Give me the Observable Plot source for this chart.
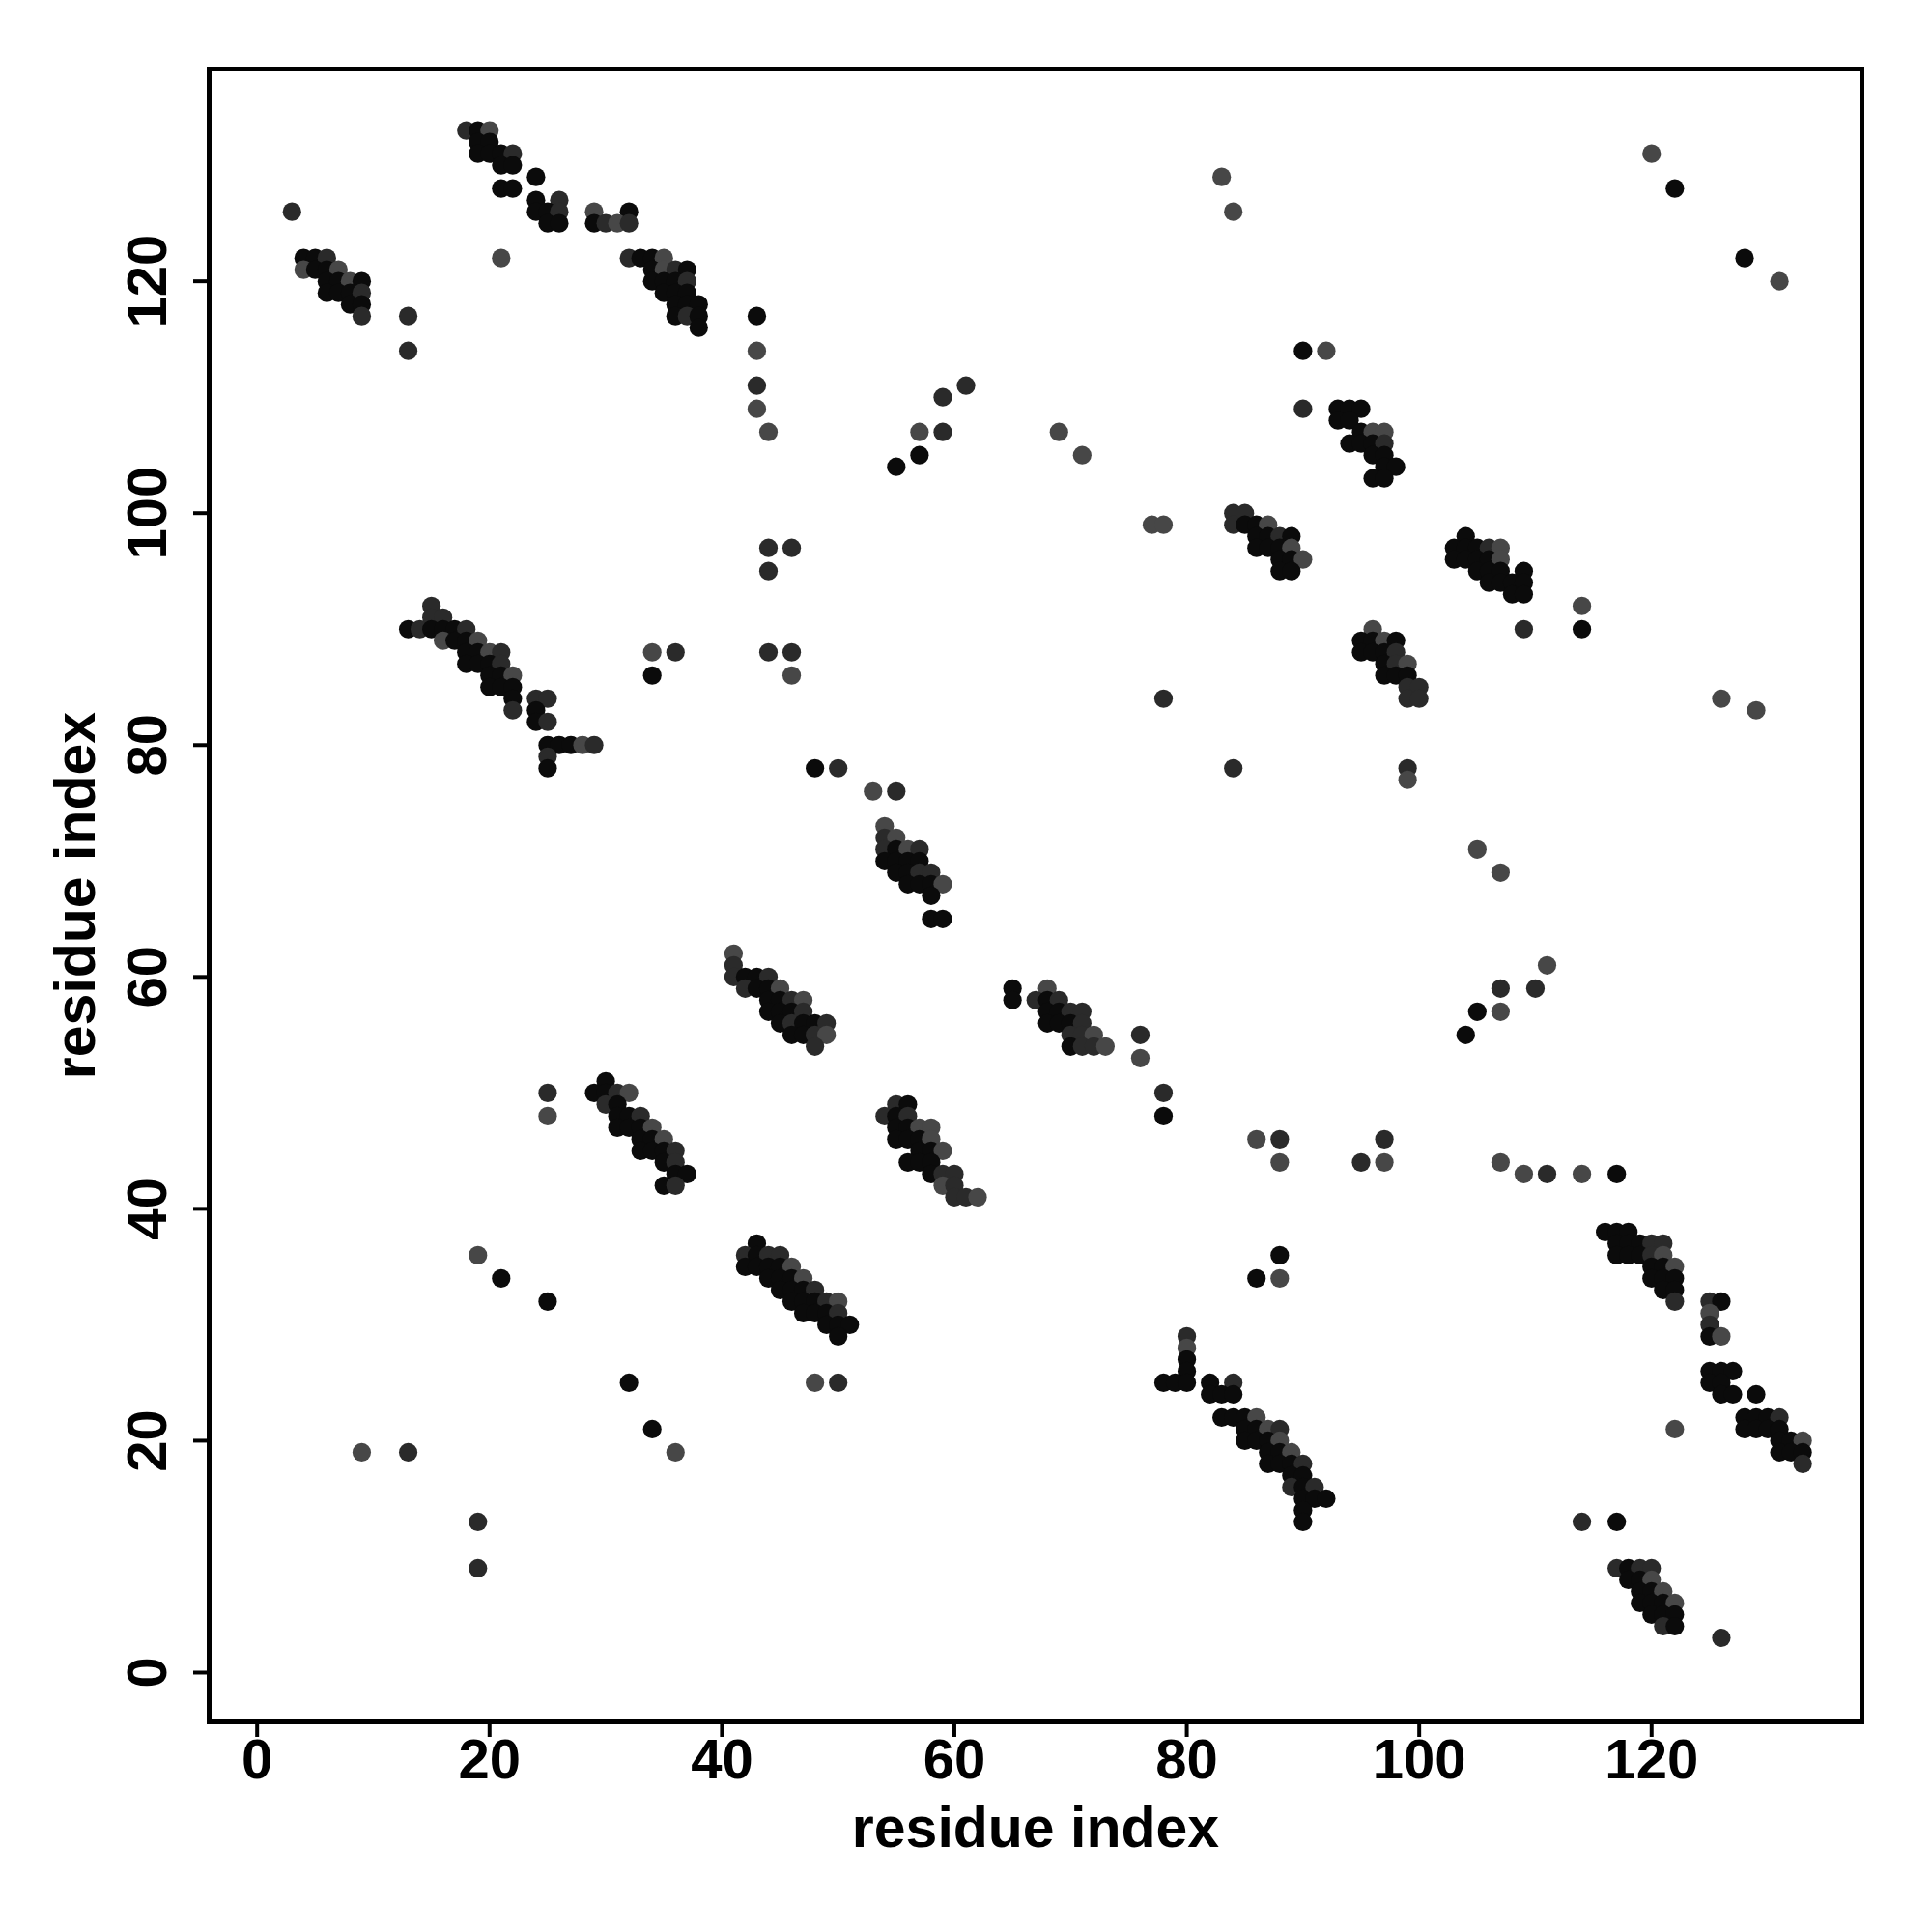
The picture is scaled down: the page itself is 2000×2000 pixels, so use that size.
<!DOCTYPE html>
<html>
<head>
<meta charset="utf-8">
<script src="https://cdn.jsdelivr.net/npm/d3@7"></script>
<script src="https://cdn.jsdelivr.net/npm/@observablehq/plot@0.6"></script>
<style>
  html, body { margin: 0; padding: 0; background: #fff; }
  #chart { width: 2000px; height: 2000px; }
</style>
</head>
<body>
<div id="chart"></div>
<script>
// Each entry: [residue i, residue j, shade level (0 = black, 1 = dark grey, 2 = grey)]
const upperLeftContacts = [
  [4,122,0],[5,122,0],[6,122,1],[4,121,2],[5,121,0],[6,121,0],[7,121,2],[6,120,0],[7,120,0],[8,120,2],[9,120,0],
  [6,119,0],[7,119,0],[8,119,0],[9,119,1],[8,118,0],[9,118,0],[9,117,1],
  [18,133,1],[19,133,0],[20,133,2],[19,132,0],[20,132,0],[19,131,0],[20,131,0],[21,131,0],[22,131,1],[21,130,0],[22,130,0],
  [24,129,0],[21,128,0],[22,128,0],[24,127,0],[26,127,1],[24,126,0],[25,126,0],[26,126,1],[25,125,0],[26,125,0],
  [29,126,2],[32,126,0],[29,125,0],[30,125,1],[31,125,2],[32,125,1],[32,122,1],[33,122,0],[34,122,0],[35,122,2],
  [34,121,0],[35,121,2],[36,121,1],[37,121,0],[34,120,0],[35,120,0],[36,120,0],[37,120,1],[35,119,0],[36,119,0],[37,119,0],
  [36,118,0],[37,118,0],[38,118,0],[36,117,0],[37,117,1],[38,117,0],[38,116,0]
];

const leftMiddleContacts = [
  [15,92,1],[15,91,1],[16,91,1],[13,90,0],[14,90,1],[15,90,0],[16,90,0],[17,90,0],[18,90,1],[16,89,2],[17,89,0],[18,89,0],[19,89,2],
  [18,88,0],[19,88,0],[20,88,2],[21,88,1],[18,87,0],[19,87,0],[20,87,0],[21,87,1],[20,86,0],[21,86,0],[22,86,2],
  [20,85,0],[21,85,0],[22,85,0],[22,84,0],[24,84,1],[25,84,1],[22,83,1],[24,83,0],[24,82,0],[25,82,1],
  [25,80,0],[26,80,0],[27,80,0],[28,80,2],[29,80,1],[25,79,1],[25,78,0],
  [54,73,2],[54,72,1],[55,72,2],[54,71,1],[55,71,0],[56,71,2],[57,71,1],[54,70,0],[55,70,0],[56,70,0],[57,70,0],
  [55,69,0],[56,69,0],[57,69,1],[58,69,1],[56,68,0],[57,68,0],[58,68,0],[59,68,2],[58,67,0],[58,65,0],[59,65,0],
  [41,62,2],[41,61,1],[41,60,1],[42,60,0],[43,60,0],[44,60,1],[42,59,1],[43,59,0],[44,59,0],[45,59,2],
  [44,58,0],[45,58,0],[46,58,1],[47,58,2],[44,57,0],[45,57,0],[46,57,0],[47,57,1],[45,56,0],[46,56,1],[47,56,0],[48,56,0],[49,56,1],
  [46,55,0],[47,55,0],[48,55,1],[49,55,2],[48,54,1],
  [65,59,0],[68,59,2],[65,58,0],[67,58,1],[68,58,0],[69,58,1],[68,57,0],[69,57,0],[70,57,1],[71,57,1],
  [68,56,0],[69,56,0],[70,56,0],[71,56,1],[70,55,1],[71,55,1],[72,55,2],[70,54,0],[71,54,1],[72,54,1],[73,54,2]
];

const lowerLeftContacts = [
  [30,51,0],[29,50,0],[30,50,0],[31,50,1],[32,50,2],[30,49,1],[31,49,0],[31,48,0],[32,48,0],[33,48,1],
  [31,47,0],[32,47,0],[33,47,0],[34,47,2],[33,46,0],[34,46,0],[35,46,2],[33,45,0],[34,45,0],[35,45,0],[36,45,1],
  [35,44,0],[36,44,1],[36,43,0],[37,43,0],[35,42,0],[36,42,1],
  [55,49,1],[56,49,0],[54,48,1],[55,48,0],[56,48,1],[55,47,0],[56,47,0],[57,47,2],[58,47,2],
  [55,46,0],[56,46,0],[57,46,0],[58,46,2],[57,45,0],[58,45,0],[59,45,2],[56,44,0],[57,44,0],[58,44,0],
  [58,43,0],[59,43,1],[60,43,1],[59,42,2],[60,42,1],[60,41,1],[61,41,1],[62,41,2],
  [43,37,0],[42,36,1],[43,36,0],[44,36,1],[45,36,1],[42,35,0],[43,35,0],[44,35,0],[45,35,0],[46,35,2],
  [44,34,0],[45,34,0],[46,34,0],[47,34,2],[45,33,0],[46,33,0],[47,33,0],[48,33,1],
  [46,32,0],[47,32,0],[48,32,0],[49,32,1],[50,32,2],[47,31,0],[48,31,0],[49,31,0],[50,31,1],
  [49,30,0],[50,30,0],[51,30,0],[50,29,0]
];

const upperRightContacts = [
  [84,100,1],[85,100,1],[84,99,1],[85,99,0],[86,99,0],[87,99,2],[86,98,0],[87,98,0],[88,98,1],[89,98,0],
  [86,97,0],[87,97,0],[88,97,0],[89,97,2],[88,96,0],[89,96,0],[90,96,2],[88,95,0],[89,95,0],
  [93,109,0],[94,109,0],[95,109,0],[93,108,0],[94,108,0],[95,107,0],[96,107,2],[97,107,2],
  [94,106,0],[95,106,0],[96,106,0],[97,106,1],[96,105,0],[97,105,0],[97,104,0],[98,104,0],[96,103,0],[97,103,0],
  [104,98,0],[103,97,0],[104,97,0],[105,97,0],[106,97,1],[107,97,2],[103,96,0],[104,96,0],[105,96,0],[106,96,0],[107,96,2],
  [105,95,0],[106,95,0],[107,95,0],[109,95,0],[106,94,0],[107,94,0],[108,94,0],[109,94,0],[108,93,0],[109,93,0],
  [96,90,2],[95,89,0],[96,89,0],[97,89,2],[98,89,0],[95,88,0],[96,88,0],[97,88,0],[98,88,1],
  [97,87,0],[98,87,1],[99,87,2],[97,86,0],[98,86,0],[99,86,0],[99,85,1],[100,85,1],[99,84,1],[100,84,1]
];

const lowerRightContacts = [
  [80,29,1],[80,28,2],[80,27,0],[80,26,0],[78,25,0],[79,25,0],[80,25,0],[82,25,0],[84,25,1],[82,24,0],[83,24,0],[84,24,0],
  [83,22,0],[84,22,0],[85,22,0],[86,22,2],[85,21,0],[86,21,0],[87,21,2],[88,21,1],[85,20,0],[86,20,0],[87,20,0],[88,20,2],
  [87,19,0],[88,19,0],[89,19,2],[87,18,0],[88,18,0],[89,18,0],[90,18,1],[89,17,0],[90,17,0],[89,16,1],[90,16,0],[91,16,1],
  [90,15,0],[91,15,0],[92,15,0],[90,14,0],[90,13,0],
  [116,38,0],[117,38,0],[118,38,0],[117,37,0],[118,37,0],[119,37,0],[120,37,1],[121,37,1],
  [117,36,0],[118,36,0],[119,36,0],[120,36,1],[121,36,2],[120,35,0],[121,35,0],[122,35,2],
  [120,34,0],[121,34,0],[122,34,0],[121,33,0],[122,33,0],[122,32,1],
  [125,32,1],[126,32,0],[125,31,2],[125,30,1],[125,29,0],[126,29,2],[125,26,0],[126,26,0],[127,26,0],[125,25,0],[126,25,0],
  [126,24,0],[127,24,0],[129,24,0],[128,22,0],[129,22,0],[130,22,0],[131,22,1],[128,21,0],[129,21,0],[130,21,0],[131,21,0],
  [131,20,0],[132,20,0],[133,20,2],[131,19,0],[132,19,0],[133,19,0],[133,18,1],
  [117,9,1],[118,9,0],[119,9,1],[120,9,1],[118,8,0],[119,8,0],[120,8,2],[119,7,0],[120,7,0],[121,7,2],
  [119,6,0],[120,6,0],[121,6,0],[122,6,2],[120,5,0],[121,5,0],[122,5,0],[121,4,1],[122,4,0]
];

const isolatedContacts = [
  [3,126,1],[13,117,1],[13,114,1],[21,122,2],[43,117,0],[43,114,2],[43,111,1],[43,109,2],[44,107,2],
  [83,129,2],[84,126,2],[57,107,2],[59,107,1],[59,110,1],[61,111,1],[57,105,0],[55,104,0],[69,107,2],[71,105,2],
  [90,114,0],[90,109,1],[92,114,2],[120,131,2],[122,128,0],[128,122,0],[131,120,2],
  [34,88,2],[36,88,1],[34,86,0],[44,97,1],[46,97,1],[44,95,1],[44,88,1],[46,88,1],[46,86,2],
  [48,78,0],[50,78,1],[53,76,2],[55,76,1],[77,99,2],[78,99,2],[78,84,1],[84,78,1],
  [109,90,1],[114,92,2],[114,90,0],[99,78,1],[99,77,2],[126,84,2],[129,83,2],[105,71,2],[107,69,2],
  [25,50,1],[25,48,2],[19,36,2],[21,34,0],[25,32,0],[76,55,1],[76,53,2],[78,50,1],[78,48,0],
  [86,46,2],[88,46,1],[88,44,2],[88,36,0],[86,34,0],[88,34,2],
  [111,61,2],[107,59,1],[110,59,1],[105,57,0],[107,57,2],[104,55,0],[97,46,1],[95,44,1],[97,44,2],
  [107,44,2],[109,43,2],[111,43,1],[114,43,2],[117,43,0],[122,21,2],[114,13,1],[117,13,0],[126,3,1],
  [48,25,2],[50,25,1],[32,25,0],[34,21,0],[36,19,2],[9,19,2],[13,19,1],[19,13,1],[19,9,1]
];

const shadeColors = ["#0b0b0b", "#2a2a2a", "#474747"];
const xTicks = [0, 20, 40, 60, 80, 100, 120];
const yTicks = [0, 20, 40, 60, 80, 100, 120];
const xTitle = "residue index";
const yTitle = "residue index";

const contacts = [
  ...upperLeftContacts, ...leftMiddleContacts, ...lowerLeftContacts,
  ...upperRightContacts, ...lowerRightContacts, ...isolatedContacts
].map(([i, j, s]) => ({i, j, color: shadeColors[s]}));

const font = "'Liberation Sans', Arial, Helvetica, sans-serif";

const chart = Plot.plot({
  width: 2000,
  height: 2000,
  marginLeft: 216,
  marginRight: 73,
  marginTop: 71,
  marginBottom: 218,
  style: {fontFamily: font, fontWeight: "bold", background: "#fff", color: "#000"},
  x: {domain: [-4.13, 138.1]},
  y: {domain: [-4.25, 138.3]},
  color: {type: "identity"},
  marks: [
    Plot.dot(contacts, {x: "i", y: "j", r: 9.6, fill: "color", stroke: "none"}),
    Plot.frame({stroke: "#000", strokeWidth: 5}),
    Plot.axisX(xTicks, {tickSize: 16, strokeWidth: 4, tickFormat: () => "", label: null}),
    Plot.axisY(yTicks, {tickSize: 16, strokeWidth: 4, tickFormat: () => "", label: null}),
    Plot.text(xTicks, {x: d => d, text: d => String(d), frameAnchor: "bottom", dy: 40, fontSize: 58, fontWeight: "bold", lineAnchor: "middle", fill: "#000"}),
    Plot.text(yTicks, {y: d => d, text: d => String(d), frameAnchor: "left", dx: -63, rotate: -90, fontSize: 58, fontWeight: "bold", textAnchor: "middle", lineAnchor: "middle", fill: "#000"}),
    Plot.text([xTitle], {text: d => d, frameAnchor: "bottom", dy: 111, fontSize: 59, fontWeight: "bold", lineAnchor: "middle", fill: "#000"}),
    Plot.text([yTitle], {text: d => d, frameAnchor: "left", dx: -137, rotate: -90, fontSize: 59, fontWeight: "bold", textAnchor: "middle", lineAnchor: "middle", fill: "#000"})
  ]
});

document.getElementById("chart").appendChild(chart);
</script>
</body>
</html>
